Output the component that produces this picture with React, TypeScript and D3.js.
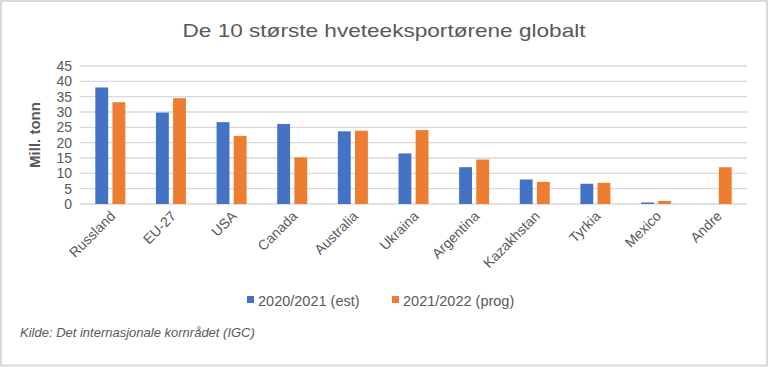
import React, { useEffect, useRef } from "react";
import * as d3 from "d3";

const categories = [
  "Russland",
  "EU-27",
  "USA",
  "Canada",
  "Australia",
  "Ukraina",
  "Argentina",
  "Kazakhstan",
  "Tyrkia",
  "Mexico",
  "Andre",
];
const est2021 = [38.0, 29.8, 26.7, 26.1, 23.7, 16.5, 12.0, 8.0, 6.6, 0.5, 0];
const prog2022 = [33.2, 34.5, 22.2, 15.2, 23.9, 24.1, 14.5, 7.2, 6.9, 1.0, 12.0];
const seriesNames = ["2020/2021 (est)", "2021/2022 (prog)"];
const yTicks = [0, 5, 10, 15, 20, 25, 30, 35, 40, 45];

const colors = ["#4472c4", "#ed7d31"];
const textColor = "#595959";
const font = "'Liberation Sans', Arial, sans-serif";

const App: React.FC = () => {
  const svgRef = useRef(null);

  useEffect(() => {
    const w = 768;
    const h = 367;
    const svg = d3.select(svgRef.current).attr("width", w).attr("height", h);

    // outer frame
    svg
      .append("rect")
      .attr("x", 1)
      .attr("y", 1)
      .attr("width", w - 2)
      .attr("height", h - 2.5)
      .attr("fill", "white")
      .attr("stroke", "#d9d9d9")
      .attr("stroke-width", 2);

    svg
      .append("text")
      .attr("x", 384)
      .attr("y", 37)
      .attr("text-anchor", "middle")
      .attr("font-family", font)
      .attr("font-size", 19)
      .attr("fill", textColor)
      .attr("textLength", 403)
      .attr("lengthAdjust", "spacingAndGlyphs")
      .text("De 10 største hveteeksportørene globalt");

    const left = 80;
    const right = 747;
    const top = 66;
    const bottom = 204;

    const x0 = d3.scaleBand().domain(categories).range([left, right]);
    const x1 = d3
      .scaleBand()
      .domain(seriesNames)
      .range([0, 30])
      .paddingInner(0.25);
    const y = d3.scaleLinear().domain([0, 45]).range([bottom, top]);

    svg
      .append("g")
      .selectAll("line")
      .data(yTicks)
      .enter()
      .append("line")
      .attr("x1", left)
      .attr("x2", right)
      .attr("y1", (d) => y(d))
      .attr("y2", (d) => y(d))
      .attr("stroke", "#d9d9d9")
      .attr("stroke-width", 1.3);

    svg
      .append("g")
      .selectAll("text")
      .data(yTicks)
      .enter()
      .append("text")
      .attr("x", 72)
      .attr("y", (d) => y(d) + 5)
      .attr("text-anchor", "end")
      .attr("font-family", font)
      .attr("font-size", 14)
      .attr("fill", textColor)
      .text((d) => d);

    svg
      .append("text")
      .attr("transform", `translate(40, ${(top + bottom) / 2}) rotate(-90)`)
      .attr("text-anchor", "middle")
      .attr("font-family", font)
      .attr("font-size", 15)
      .attr("font-weight", "bold")
      .attr("fill", textColor)
      .text("Mill. tonn");

    const series = [est2021, prog2022];
    const groups = svg
      .append("g")
      .selectAll("g")
      .data(categories)
      .enter()
      .append("g")
      .attr(
        "transform",
        (d) => `translate(${x0(d)! + (x0.bandwidth() - 30) / 2}, 0)`
      );

    groups
      .selectAll("rect")
      .data((d, i) => series.map((s, k) => ({ k, v: s[i] })))
      .enter()
      .append("rect")
      .attr("x", (d) => x1(seriesNames[d.k])!)
      .attr("width", x1.bandwidth())
      .attr("y", (d) => y(d.v))
      .attr("height", (d) => bottom - y(d.v))
      .attr("fill", (d) => colors[d.k]);

    svg
      .append("g")
      .selectAll("text")
      .data(categories)
      .enter()
      .append("text")
      .attr(
        "transform",
        (d) => `translate(${x0(d)! + x0.bandwidth() / 2 + 6}, 217) rotate(-45)`
      )
      .attr("text-anchor", "end")
      .attr("font-family", font)
      .attr("font-size", 14)
      .attr("fill", textColor)
      .text((d) => d);

    const legendX = [247, 392];
    seriesNames.forEach((name, k) => {
      svg
        .append("rect")
        .attr("x", legendX[k])
        .attr("y", 296)
        .attr("width", 7)
        .attr("height", 7)
        .attr("fill", colors[k]);
      svg
        .append("text")
        .attr("x", legendX[k] + 11)
        .attr("y", 306)
        .attr("font-family", font)
        .attr("font-size", 14.5)
        .attr("fill", textColor)
        .text(name);
    });

    svg
      .append("text")
      .attr("x", 20)
      .attr("y", 337)
      .attr("font-family", font)
      .attr("font-size", 13)
      .attr("font-style", "italic")
      .attr("fill", textColor)
      .text("Kilde: Det internasjonale kornrådet (IGC)");

    return () => {
      svg.selectAll("*").remove();
    };
  }, []);

  return (
    <svg
      ref={svgRef}
      style={{ position: "absolute", left: 0, top: 0, display: "block" }}
    />
  );
};

export default App;
